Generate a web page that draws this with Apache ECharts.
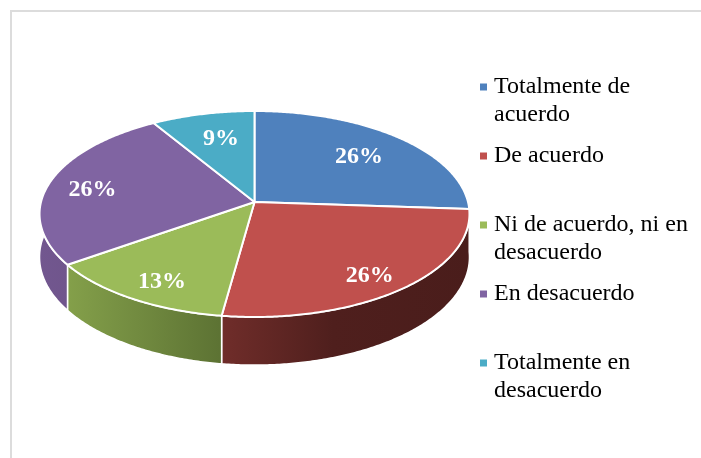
<!DOCTYPE html>
<html>
<head>
<meta charset="utf-8">
<style>
  html, body { margin: 0; padding: 0; background: #fff; }
  #chart { width: 701px; height: 458px; }
</style>
<script src="https://cdn.jsdelivr.net/npm/echarts@6/dist/echarts.min.js"></script>
</head>
<body>
<div id="chart"></div>
<script>
const categories = ['Totalmente de acuerdo', 'De acuerdo', 'Ni de acuerdo, ni en desacuerdo', 'En desacuerdo', 'Totalmente en desacuerdo'];
const legendLines = [['Totalmente de', 'acuerdo'], ['De acuerdo', ' '], ['Ni de acuerdo, ni en', 'desacuerdo'], ['En desacuerdo', ' '], ['Totalmente en', 'desacuerdo']];
// responses out of 23, the slice edges and the rounded labels both fit these
const values = [6, 6, 3, 6, 2];

const colors = ['#4f81bd', '#c0504d', '#9bbb59', '#8064a2', '#4bacc6'];
const sideFrom = ['#3a6189', '#702d2a', '#84a04a', '#72578f', '#37808f'];
const sideMid = ['#345a80', '#4f1f1d', '#728b40', '#6e548a', '#337888'];
const sideTo = ['#2f4f73', '#4a1d1b', '#5c7233', '#6c5288', '#2f6f7f'];

// Projection of the tilted disc. ECharts has no 3D pie, so the sectors are
// custom series pushed through this small perspective transform.
const cx = 254.5, cy = 202, rx = 213.5, ry = 101.6, persp = -0.1165, depth = 42.5;
// where each percent label sits: share of the radius, then a pixel nudge
const labelRadius = [0.7, 0.8, 0.8, 0.8, 0.7];
const labelNudge = [[1, 1], [-1, 6], [4, 4], [2, 4], [4, 0]];

const total = values.reduce((a, b) => a + b, 0);
const starts = [];
values.reduce((acc, v, i) => { starts[i] = acc; return acc + v; }, 0);
const angleAt = (share) => (share / total) * 2 * Math.PI;

function project(angle, r, drop) {
  const u = r * Math.sin(angle);
  const v = -r * Math.cos(angle);
  const s = 1 / (1 + persp * v);
  return [cx + rx * u * s, cy + ry * v * s + (drop ? depth * s : 0)];
}

function arc(i, drop) {
  const a0 = angleAt(starts[i]);
  const a1 = angleAt(starts[i] + values[i]);
  const n = Math.max(2, Math.ceil((a1 - a0) / 0.01));
  const pts = [];
  for (let k = 0; k <= n; k++) pts.push(project(a0 + ((a1 - a0) * k) / n, 1, drop));
  return pts;
}

function renderSide(params) {
  const i = params.dataIndex;
  return {
    type: 'polygon',
    shape: { points: arc(i, false).concat(arc(i, true).reverse()) },
    style: {
      fill: new echarts.graphic.LinearGradient(0, 0, 1, 0, [
        { offset: 0, color: sideFrom[i] },
        { offset: 0.45, color: sideMid[i] },
        { offset: 1, color: sideTo[i] },
      ]),
      stroke: '#fff',
      lineWidth: 1.5,
    },
  };
}

function renderTop(i) {
  const mid = angleAt(starts[i] + values[i] / 2);
  const at = project(mid, labelRadius[i], false);
  return {
    type: 'group',
    children: [
      {
        type: 'polygon',
        shape: { points: [[cx, cy]].concat(arc(i, false)) },
        style: { fill: colors[i], stroke: '#fff', lineWidth: 2, lineJoin: 'round' },
      },
      {
        type: 'text',
        z2: 10,
        style: {
          text: Math.round((values[i] / total) * 100) + '%',
          x: at[0] + labelNudge[i][0],
          y: at[1] + labelNudge[i][1],
          fill: '#fff',
          font: 'bold 24px "Liberation Serif"',
          align: 'center',
          verticalAlign: 'middle',
        },
      },
    ],
  };
}

const chart = echarts.init(document.getElementById('chart'));
chart.setOption({
  animation: false,
  backgroundColor: '#fff',
  graphic: [
    { type: 'rect', shape: { x: 10, y: 10, width: 691, height: 2 }, style: { fill: '#dcdcdc' }, silent: true },
    { type: 'rect', shape: { x: 10, y: 10, width: 2, height: 448 }, style: { fill: '#dcdcdc' }, silent: true },
  ],
  legend: {
    left: 480,
    top: 45,
    orient: 'vertical',
    align: 'left',
    padding: 0,
    itemGap: -15,
    itemWidth: 7,
    itemHeight: 7,
    icon: 'rect',
    selectedMode: false,
    data: categories,
    // blank first line keeps the square level with the real first line
    formatter: (name) => ' \n' + legendLines[categories.indexOf(name)].join('\n'),
    textStyle: {
      color: '#000',
      fontFamily: 'Liberation Serif',
      fontSize: 24,
      lineHeight: 28,
      padding: [0, 0, 0, 2],
    },
  },
  series: [
    {
      type: 'custom',
      coordinateSystem: 'none',
      silent: true,
      z: 1,
      data: values,
      renderItem: renderSide,
    },
  ].concat(categories.map((name, i) => ({
    name,
    type: 'custom',
    coordinateSystem: 'none',
    silent: true,
    z: 2,
    itemStyle: { color: colors[i] },
    data: [values[i]],
    renderItem: () => renderTop(i),
  }))),
});
</script>
</body>
</html>
